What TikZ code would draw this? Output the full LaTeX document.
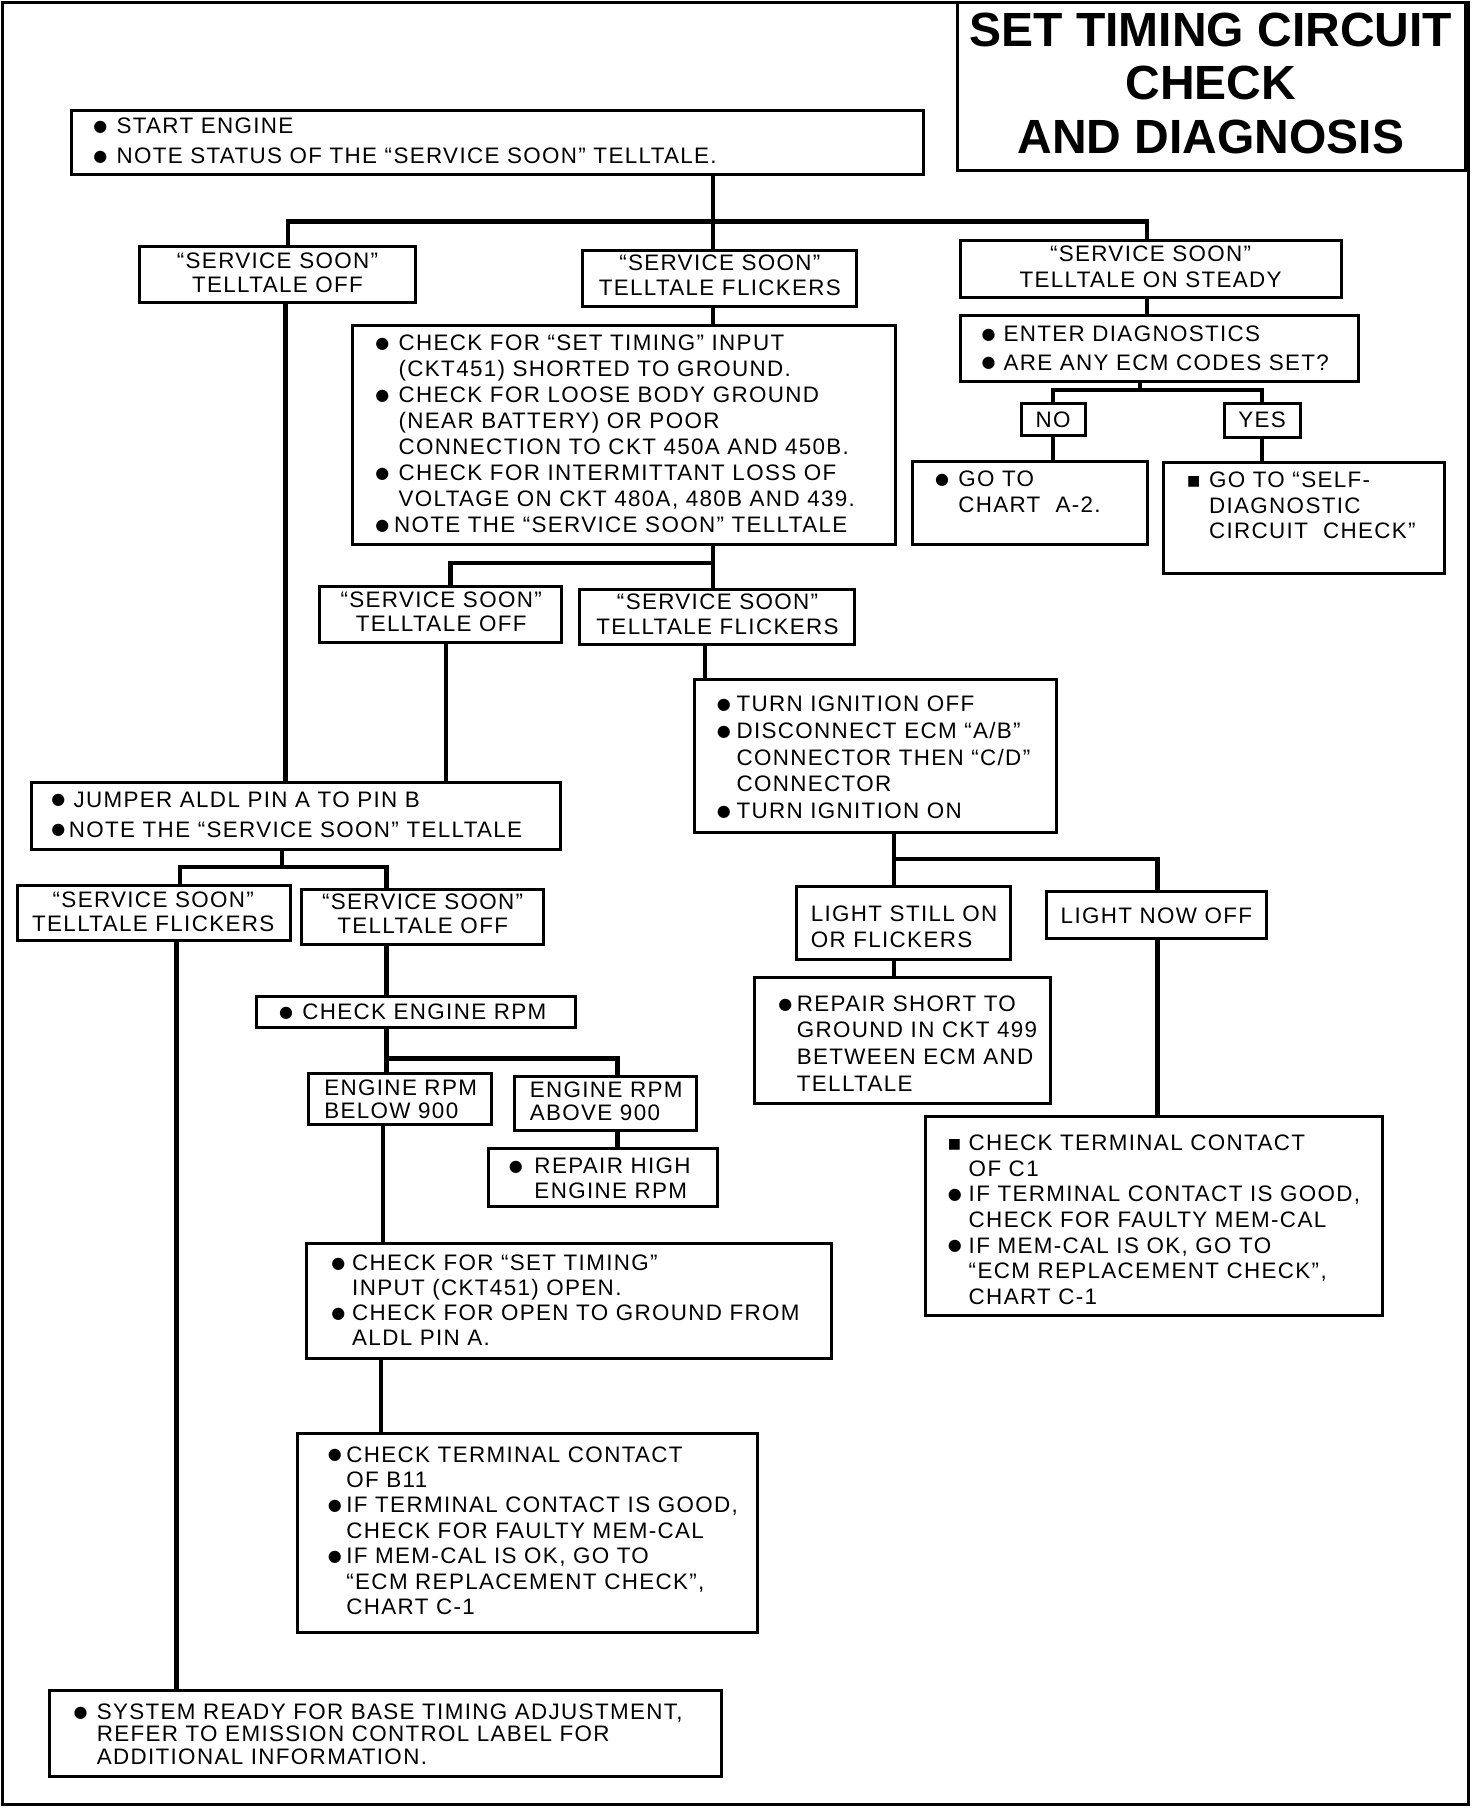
\documentclass[tikz,border=0pt]{standalone}
\usepackage{fontspec}
\setmainfont{Liberation Sans}[LetterSpace=6]
\newfontfamily\titlefont{Liberation Sans}
\newfontfamily\dv{DejaVu Sans}
\usetikzlibrary{fit}
\newlength\ux \setlength\ux{0.5805pt}
\newcommand\bul{\raisebox{1.1pt}{\dv\fontsize{8}{8}\selectfont ●}}
\newcommand\sqb{\raisebox{1.0pt}{\dv\fontsize{7}{7}\selectfont ■}}
\newcommand\Bu[1]{\makebox[#1\ux][l]{\bul}}
\newcommand\Sq[1]{\makebox[#1\ux][l]{\sqb}}
\newcommand\In[1]{\hspace*{#1\ux}}
\begin{document}
\begin{tikzpicture}[x=0.5805pt, y=-0.5765pt,
  box/.style={draw, line width=1.5pt, inner sep=0pt},
  frame/.style={draw, line width=1.7pt, inner sep=0pt},
  conn/.style={line width=2.2pt},
  txt/.style={inner sep=0pt, font=\fontsize{11.2}{#1}\selectfont},
  txt/.default=13pt]
\useasboundingbox (0,0) rectangle (1268,1568);
\node[frame, fit={(2,2) (1265,1565)}] (frame) {};
% title
\node[box, fit={(825,2) (1262,148)}] (title) {};
\node[inner sep=0pt, anchor=base, font=\titlefont\bfseries\fontsize{24}{26.8}\selectfont] (titlet) at (1043,40)
  {\begin{tabular}[t]{@{}c@{}}SET TIMING CIRCUIT\\CHECK\\AND DIAGNOSIS\end{tabular}};
% boxes
\node[box, fit={(62,96) (795,151)}] (start) {};
\node[box, fit={(120,214) (358,262)}] (ssoff1) {};
\node[box, fit={(502,217) (738,266)}] (ssfl1) {};
\node[box, fit={(827,209) (1155,258)}] (sson) {};
\node[box, fit={(827,274) (1170,331)}] (diag) {};
\node[box, fit={(880,350) (935,378)}] (no) {};
\node[box, fit={(1055,350) (1120,379)}] (yes) {};
\node[box, fit={(786,400) (988,472)}] (goa2) {};
\node[box, fit={(1002,401) (1244,497)}] (self) {};
\node[box, fit={(304,282) (771,472)}] (chk1) {};
\node[box, fit={(275,509) (484,557)}] (ssoff2) {};
\node[box, fit={(499,511) (736,559)}] (ssfl2) {};
\node[box, fit={(598,589) (910,722)}] (ign) {};
\node[box, fit={(686,769) (870,832)}] (light1) {};
\node[box, fit={(901,773) (1091,814)}] (light2) {};
\node[box, fit={(650,848) (905,957)}] (repair) {};
\node[box, fit={(797,968) (1191,1141)}] (c1box) {};
\node[box, fit={(27,679) (483,737)}] (jump) {};
\node[box, fit={(15,768) (250,816)}] (ssfl3) {};
\node[box, fit={(260,771) (468,819)}] (ssoff3) {};
\node[box, fit={(221,864) (496,891)}] (rpm) {};
\node[box, fit={(266,931) (423,975)}] (below) {};
\node[box, fit={(443,934) (600,980)}] (above) {};
\node[box, fit={(421,996) (618,1046)}] (high) {};
\node[box, fit={(264,1078) (716,1178)}] (open) {};
\node[box, fit={(256,1243) (652,1416)}] (b11) {};
\node[box, fit={(43,1466) (621,1541)}] (sys) {};
% texts
\node[txt=15pt, anchor=base west] (startt) at (80,116) {\begin{tabular}[t]{@{}l@{}}\Bu{20}START ENGINE\\\Bu{20}NOTE STATUS OF THE “SERVICE SOON” TELLTALE.\end{tabular}};
\node[txt=12.1pt, anchor=base] (ssoff1t) at (239,233) {\begin{tabular}[t]{@{}c@{}}“SERVICE SOON”\\TELLTALE OFF\end{tabular}};
\node[txt=12.1pt, anchor=base] (ssfl1t) at (620,235) {\begin{tabular}[t]{@{}c@{}}“SERVICE SOON”\\TELLTALE FLICKERS\end{tabular}};
\node[txt=12.7pt, anchor=base] (ssont) at (991,227) {\begin{tabular}[t]{@{}c@{}}“SERVICE SOON”\\TELLTALE ON STEADY\end{tabular}};
\node[txt=14.4pt, anchor=base west] (diagt) at (845,296) {\begin{tabular}[t]{@{}l@{}}\Bu{19}ENTER DIAGNOSTICS\\\Bu{19}ARE ANY ECM CODES SET?\end{tabular}};
\node[txt, anchor=base] (not) at (907,371) {NO};
\node[txt, anchor=base] (yest) at (1087,371) {YES};
\node[txt=12.7pt, anchor=base west] (goa2t) at (805,422) {\begin{tabular}[t]{@{}l@{}}\Bu{20}GO TO\\\In{20}CHART\ \ A-2.\end{tabular}};
\node[txt=12.7pt, anchor=base west] (selft) at (1022,423) {\begin{tabular}[t]{@{}l@{}}\Sq{19}GO TO “SELF-\\\In{19}DIAGNOSTIC\\\In{19}CIRCUIT\ \ CHECK”\end{tabular}};
\node[txt=13pt, anchor=base west] (chk1t) at (323,304) {\begin{tabular}[t]{@{}l@{}}\Bu{20}CHECK FOR “SET TIMING” INPUT\\\In{20}(CKT451) SHORTED TO GROUND.\\\Bu{20}CHECK FOR LOOSE BODY GROUND\\\In{20}(NEAR BATTERY) OR POOR\\\In{20}CONNECTION TO CKT 450A AND 450B.\\\Bu{20}CHECK FOR INTERMITTANT LOSS OF\\\In{20}VOLTAGE ON CKT 480A, 480B AND 439.\\\Bu{16}NOTE THE “SERVICE SOON” TELLTALE\end{tabular}};
\node[txt=12.1pt, anchor=base] (ssoff2t) at (380,527) {\begin{tabular}[t]{@{}c@{}}“SERVICE SOON”\\TELLTALE OFF\end{tabular}};
\node[txt=12.1pt, anchor=base] (ssfl2t) at (618,529) {\begin{tabular}[t]{@{}c@{}}“SERVICE SOON”\\TELLTALE FLICKERS\end{tabular}};
\node[txt=13.4pt, anchor=base west] (ignt) at (617,617) {\begin{tabular}[t]{@{}l@{}}\Bu{17}TURN IGNITION OFF\\\Bu{17}DISCONNECT ECM “A/B”\\\In{17}CONNECTOR THEN “C/D”\\\In{17}CONNECTOR\\\Bu{17}TURN IGNITION ON\end{tabular}};
\node[txt=13.3pt, anchor=base west] (light1t) at (698,799) {\begin{tabular}[t]{@{}l@{}}LIGHT STILL ON\\OR FLICKERS\end{tabular}};
\node[txt, anchor=base] (light2t) at (996,801) {LIGHT NOW OFF};
\node[txt=13.3pt, anchor=base west] (repairt) at (670,877) {\begin{tabular}[t]{@{}l@{}}\Bu{16}REPAIR SHORT TO\\\In{16}GROUND IN CKT 499\\\In{16}BETWEEN ECM AND\\\In{16}TELLTALE\end{tabular}};
\node[txt=12.8pt, anchor=base west] (c1boxt) at (816,998) {\begin{tabular}[t]{@{}l@{}}\Sq{18}CHECK TERMINAL CONTACT\\\In{18}OF C1\\\Bu{18}IF TERMINAL CONTACT IS GOOD,\\\In{18}CHECK FOR FAULTY MEM-CAL\\\Bu{18}IF MEM-CAL IS OK, GO TO\\\In{18}“ECM REPLACEMENT CHECK”,\\\In{18}CHART C-1\end{tabular}};
\node[txt=15pt, anchor=base west] (jumpt) at (44,700) {\begin{tabular}[t]{@{}l@{}}\Bu{19}JUMPER ALDL PIN A TO PIN B\\\Bu{15}NOTE THE “SERVICE SOON” TELLTALE\end{tabular}};
\node[txt=12.1pt, anchor=base] (ssfl3t) at (132,787) {\begin{tabular}[t]{@{}c@{}}“SERVICE SOON”\\TELLTALE FLICKERS\end{tabular}};
\node[txt=12.1pt, anchor=base] (ssoff3t) at (364,789) {\begin{tabular}[t]{@{}c@{}}“SERVICE SOON”\\TELLTALE OFF\end{tabular}};
\node[txt, anchor=base west] (rpmt) at (240,884) {\Bu{20}CHECK ENGINE RPM};
\node[txt=11.5pt, anchor=base west] (belowt) at (279,950) {\begin{tabular}[t]{@{}l@{}}ENGINE RPM\\BELOW 900\end{tabular}};
\node[txt=11.5pt, anchor=base west] (abovet) at (456,952) {\begin{tabular}[t]{@{}l@{}}ENGINE RPM\\ABOVE 900\end{tabular}};
\node[txt=12.1pt, anchor=base west] (hight) at (438,1018) {\begin{tabular}[t]{@{}l@{}}\Bu{22}REPAIR HIGH\\\In{22}ENGINE RPM\end{tabular}};
\node[txt=12.5pt, anchor=base west] (opent) at (285,1102) {\begin{tabular}[t]{@{}l@{}}\Bu{18}CHECK FOR “SET TIMING”\\\In{18}INPUT (CKT451) OPEN.\\\Bu{18}CHECK FOR OPEN TO GROUND FROM\\\In{18}ALDL PIN A.\end{tabular}};
\node[txt=12.7pt, anchor=base west] (b11t) at (282,1268) {\begin{tabular}[t]{@{}l@{}}\Bu{16}CHECK TERMINAL CONTACT\\\In{16}OF B11\\\Bu{16}IF TERMINAL CONTACT IS GOOD,\\\In{16}CHECK FOR FAULTY MEM-CAL\\\Bu{16}IF MEM-CAL IS OK, GO TO\\\In{16}“ECM REPLACEMENT CHECK”,\\\In{16}CHART C-1\end{tabular}};
\node[txt=11.3pt, anchor=base west] (syst) at (63,1491) {\begin{tabular}[t]{@{}l@{}}\Bu{20}SYSTEM READY FOR BASE TIMING ADJUSTMENT,\\\In{20}REFER TO EMISSION CONTROL LABEL FOR\\\In{20}ADDITIONAL INFORMATION.\end{tabular}};
% connectors
\coordinate (j1) at (614,192);
\coordinate (j1l) at (248,192);
\coordinate (j1r) at (988,192);
\draw[conn] (start.south -| j1) -- (j1) -- (ssfl1.north -| j1);
\draw[conn] (ssoff1.north -| j1l) -- (j1l) -- (j1r) -- (sson.north -| j1r);
\coordinate (xa) at (614,0);
\draw[conn] (ssfl1.south -| xa) -- (chk1.north -| xa);
\coordinate (j2) at (614,488);
\coordinate (j2l) at (388,488);
\draw[conn] (chk1.south -| j2) -- (j2) -- (ssfl2.north -| j2);
\draw[conn] (j2) -- (j2l) -- (ssoff2.north -| j2l);
\coordinate (xb) at (988,0);
\draw[conn] (sson.south -| xb) -- (diag.north -| xb);
\coordinate (j3) at (982,338);
\coordinate (j3l) at (907,338);
\coordinate (j3r) at (1087,338);
\draw[conn] (diag.south -| j3) -- (j3);
\draw[conn] (no.north -| j3l) -- (j3l) -- (j3r) -- (yes.north -| j3r);
\draw[conn] (no.south -| j3l) -- (goa2.north -| j3l);
\draw[conn] (yes.south -| j3r) -- (self.north -| j3r);
\coordinate (xc) at (246,0);
\draw[conn] (ssoff1.south -| xc) -- (jump.north -| xc);
\coordinate (xd) at (384,0);
\draw[conn] (ssoff2.south -| xd) -- (jump.north -| xd);
\coordinate (xe) at (607,0);
\draw[conn] (ssfl2.south -| xe) -- (ign.north -| xe);
\coordinate (j4) at (770,745);
\coordinate (j4r) at (997,745);
\draw[conn] (ign.south -| j4) -- (light1.north -| j4);
\draw[conn] (j4) -- (j4r) -- (light2.north -| j4r);
\draw[conn] (light1.south -| j4) -- (repair.north -| j4);
\draw[conn] (light2.south -| j4r) -- (c1box.north -| j4r);
\coordinate (j5) at (243,752);
\coordinate (j5l) at (155,752);
\coordinate (j5r) at (333,752);
\draw[conn] (jump.south -| j5) -- (j5);
\draw[conn] (ssfl3.north -| j5l) -- (j5l) -- (j5r) -- (ssoff3.north -| j5r);
\coordinate (xf) at (152,0);
\draw[conn] (ssfl3.south -| xf) -- (sys.north -| xf);
\draw[conn] (ssoff3.south -| j5r) -- (rpm.north -| j5r);
\coordinate (j6) at (333,918);
\coordinate (j6r) at (532,918);
\draw[conn] (rpm.south -| j6) -- (j6) -- (j6r) -- (above.north -| j6r);
\draw[conn] (j6) -- (below.north -| j6);
\draw[conn] (above.south -| j6r) -- (high.north -| j6r);
\coordinate (xg) at (330,0);
\draw[conn] (below.south -| xg) -- (open.north -| xg);
\coordinate (xh) at (328,0);
\draw[conn] (open.south -| xh) -- (b11.north -| xh);
\end{tikzpicture}
\end{document}
